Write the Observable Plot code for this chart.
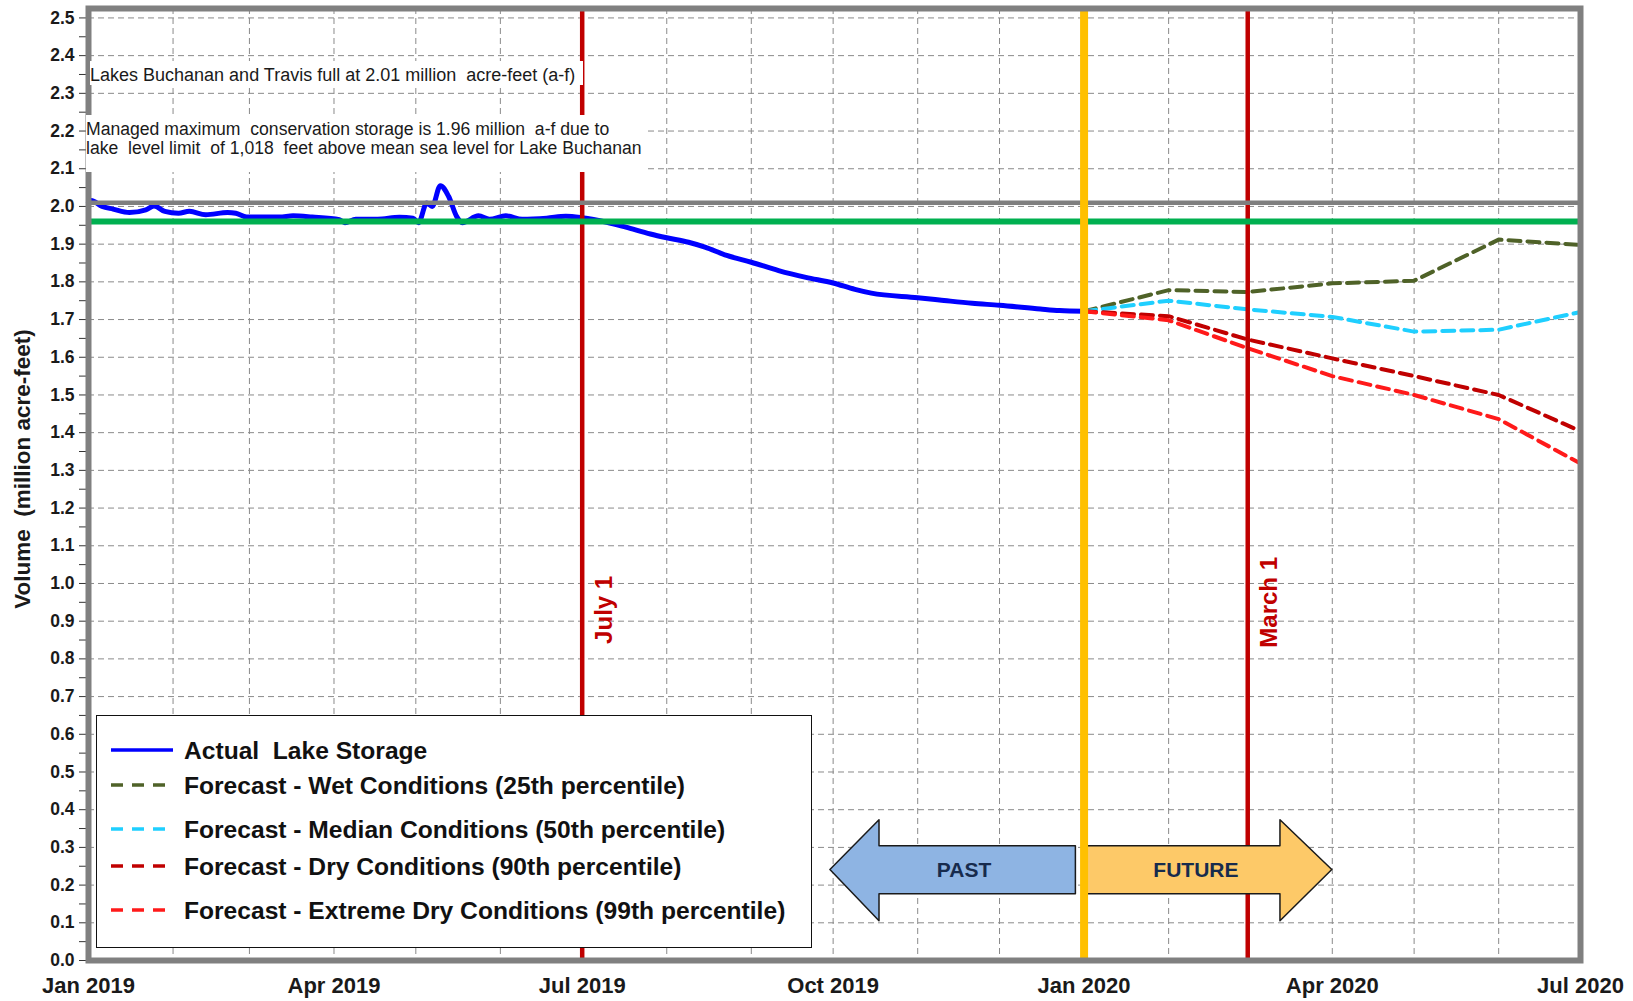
<!DOCTYPE html>
<html><head><meta charset="utf-8">
<script src="https://cdn.jsdelivr.net/npm/d3@7"></script>
<script src="https://cdn.jsdelivr.net/npm/@observablehq/plot@0.6"></script>
<style>
html,body{margin:0;padding:0;background:#fff;overflow:hidden;}
#wrap{position:relative;width:1633px;height:1001px;}
.nf{font-family:"Liberation Sans Narrow","Arial Narrow","Liberation Sans",sans-serif;}
.note{position:absolute;background:#fff;color:#1a1a1a;white-space:pre;}
#ylab{position:absolute;left:23px;top:469px;transform:translate(-50%,-50%) rotate(-90deg);font-family:"Liberation Sans",Arial,sans-serif;font-weight:bold;font-size:22.5px;white-space:pre;color:#1a1a1a;}
#legend{position:absolute;left:96px;top:715px;width:714px;height:231px;border:1.5px solid #111;background:#fff;}
</style></head><body><div id="wrap"></div>
<script>
// ---------- data ----------
const actualDates = ["2019-01-01","2019-01-02","2019-01-06","2019-01-10","2019-01-16","2019-01-22","2019-01-25","2019-01-29","2019-02-03","2019-02-07","2019-02-13","2019-02-21","2019-02-24","2019-02-28","2019-03-12","2019-03-17","2019-03-24","2019-04-03","2019-04-05","2019-04-09","2019-04-17","2019-04-25","2019-04-30","2019-05-02","2019-05-05","2019-05-07","2019-05-10","2019-05-13","2019-05-16","2019-05-18","2019-05-24","2019-05-28","2019-06-03","2019-06-09","2019-06-18","2019-06-25","2019-07-01","2019-07-10","2019-07-17","2019-07-26","2019-08-01","2019-08-09","2019-08-15","2019-08-23","2019-09-01","2019-09-11","2019-09-21","2019-10-01","2019-10-09","2019-10-15","2019-11-01","2019-11-09","2019-11-21","2019-12-01","2019-12-16","2019-12-23","2020-01-01"];
const actualValues = [2.010,2.016,2.000,1.993,1.984,1.991,2.001,1.987,1.982,1.987,1.978,1.984,1.982,1.972,1.972,1.975,1.972,1.965,1.957,1.966,1.966,1.971,1.969,1.957,2.009,2.000,2.055,2.027,1.973,1.957,1.975,1.966,1.975,1.966,1.969,1.974,1.970,1.958,1.945,1.927,1.917,1.905,1.892,1.870,1.852,1.830,1.812,1.797,1.780,1.770,1.758,1.752,1.743,1.738,1.728,1.724,1.722];

const forecastDates = ["2020-01-01","2020-02-01","2020-03-01","2020-04-01","2020-05-01","2020-06-01","2020-07-01"];
const wetValues     = [1.722,1.778,1.773,1.796,1.803,1.912,1.898];
const medianValues  = [1.722,1.750,1.727,1.707,1.668,1.673,1.720];
const dryValues     = [1.722,1.709,1.647,1.597,1.550,1.500,1.404];
const extremeValues = [1.722,1.698,1.624,1.550,1.500,1.436,1.318];

const seriesNames = ["Actual  Lake Storage","Forecast - Wet Conditions (25th percentile)","Forecast - Median Conditions (50th percentile)","Forecast - Dry Conditions (90th percentile)","Forecast - Extreme Dry Conditions (99th percentile)"];
const seriesColors = ["#0000ff","#4f6228","#1fcfff","#c00000","#ff1a1a"];

const fullCapacity = 2.01;
const managedMax = 1.96;
const markerDates = ["2019-07-01","2020-03-01"];
const markerLabels = ["July 1","March 1"];
const markerLabelValues = [0.93,0.95];
const todayDate = "2020-01-01";

const xTickDates = ["2019-01-01","2019-04-01","2019-07-01","2019-10-01","2020-01-01","2020-04-01","2020-07-01"];

const pastArrowDates = ["2019-09-30","2019-10-18","2019-10-18","2019-12-29"];
const pastArrowLow   = [0.24,0.104,0.176,0.176];
const pastArrowHigh  = [0.24,0.372,0.303,0.303];
const futureArrowDates = ["2020-01-02","2020-03-13","2020-03-13","2020-04-01"];
const futureArrowLow   = [0.176,0.176,0.104,0.24];
const futureArrowHigh  = [0.303,0.303,0.372,0.24];
const arrowLabels = ["PAST","FUTURE"];
const arrowLabelDates = ["2019-11-18","2020-02-11"];
const arrowLabelValue = 0.24;

const note1 = "Lakes Buchanan and Travis full at 2.01 million  acre-feet (a-f)";
const note2 = "Managed maximum  conservation storage is 1.96 million  a-f due to\nlake  level limit  of 1,018  feet above mean sea level for Lake Buchanan";
const yTitle = "Volume  (million acre-feet)";

// ---------- build ----------
const parse = d3.utcParse("%Y-%m-%d");
const actual = actualDates.map((d,i)=>({date:parse(d), value:actualValues[i]}));
const fc = [wetValues, medianValues, dryValues, extremeValues];
const forecast = fc.flatMap((vals,k)=>forecastDates.map((d,i)=>({s:k+1, date:parse(d), value:vals[i]})));
const past = pastArrowDates.map((d,i)=>({date:parse(d), lo:pastArrowLow[i], hi:pastArrowHigh[i]}));
const future = futureArrowDates.map((d,i)=>({date:parse(d), lo:futureArrowLow[i], hi:futureArrowHigh[i]}));
const x0 = parse("2019-01-01"), x1 = parse("2020-07-01");
const months = d3.utcMonth.range(x0, d3.utcDay.offset(x1,1));
const yGrid = d3.range(0,26).map(i=>i/10);
const yTicks = d3.range(0,51).map(i=>i/20);
const NF = '"Liberation Sans Narrow","Arial Narrow","Liberation Sans",sans-serif';

const chart = Plot.plot({
  width:1633, height:1001,
  marginLeft:88, marginRight:53, marginTop:8, marginBottom:41,
  x:{type:"utc", domain:[x0,x1]},
  y:{domain:[0,2.525]},
  style:{background:"#fff", fontFamily:NF, overflow:"visible"},
  marks:[
    Plot.gridX(months,{stroke:"#8a8a8a", strokeOpacity:1, strokeDasharray:"6,4", strokeWidth:1}),
    Plot.gridY(yGrid,{stroke:"#8a8a8a", strokeOpacity:1, strokeDasharray:"6,4", strokeWidth:1}),
    Plot.axisY(yTicks,{tickSize:9, tickPadding:5, stroke:"#333", fontSize:17.5, fontWeight:"bold", fill:"#1a1a1a",
      fontFamily:'"Liberation Sans",Arial,sans-serif',
      tickFormat:d=>(Math.round(d*20)%2===0? d.toFixed(1):""), label:null}),
    Plot.axisX(xTickDates.map(parse),{tickSize:0, tickPadding:17, fontSize:22, fontWeight:"bold", fill:"#1a1a1a",
      tickFormat:d3.utcFormat("%b %Y"), label:null}),
    Plot.line(actual,{x:"date", y:"value", stroke:seriesColors[0], strokeWidth:5, curve:"monotone-x"}),
    Plot.line(forecast,{x:"date", y:"value", z:"s", stroke:d=>seriesColors[d.s], strokeWidth:4, strokeDasharray:"12,7", curve:"linear"}),
    Plot.ruleX(markerDates.map(parse),{stroke:"#c00000", strokeWidth:4.5}),
    Plot.ruleY([fullCapacity],{stroke:"#7f7f7f", strokeWidth:4.5}),
    Plot.ruleY([managedMax],{stroke:"#00b050", strokeWidth:6}),
    Plot.areaY(past,{x:"date", y1:"lo", y2:"hi", fill:"#8eb4e3", stroke:"#1a1a1a", strokeWidth:1.5}),
    Plot.areaY(future,{x:"date", y1:"lo", y2:"hi", fill:"#fdc968", stroke:"#1a1a1a", strokeWidth:1.5}),
    Plot.ruleX([parse(todayDate)],{stroke:"#ffc000", strokeWidth:8}),
    Plot.text(arrowLabels,{x:(d,i)=>parse(arrowLabelDates[i]), y:()=>arrowLabelValue, text:d=>d, fontSize:21, fontWeight:"bold", fill:"#172b4d"}),
    Plot.text(markerLabels,{x:(d,i)=>parse(markerDates[i]), y:(d,i)=>markerLabelValues[i], text:d=>d, rotate:-90, dx:22,
      fontSize:24, fontWeight:"bold", fill:"#c00000", fontFamily:'"Liberation Sans",Arial,sans-serif'}),
    Plot.frame({stroke:"#808080", strokeWidth:6})
  ]
});
const wrap = document.getElementById("wrap");
wrap.appendChild(chart);

// notes
const n1 = document.createElement("div"); n1.className="note nf"; n1.textContent=note1;
Object.assign(n1.style,{left:"90px", top:"61px", fontSize:"18px", lineHeight:"17px", padding:"6px 8px 1px 0"});
wrap.appendChild(n1);
const n2 = document.createElement("div"); n2.className="note nf"; n2.textContent=note2;
Object.assign(n2.style,{left:"86px", top:"115px", fontSize:"17.6px", lineHeight:"19px", padding:"5px 4px 14px 0"});
wrap.appendChild(n2);
// y title
const yl = document.createElement("div"); yl.id="ylab"; yl.textContent=yTitle; wrap.appendChild(yl);

// legend
const lg = d3.select(wrap).append("div").attr("id","legend");
const ls = lg.append("svg").attr("width",714).attr("height",231);
const rowY = [34,69,113,150,194];
seriesNames.forEach((name,i)=>{
  ls.append("line").attr("x1",14).attr("x2",76).attr("y1",rowY[i]).attr("y2",rowY[i])
    .attr("stroke",seriesColors[i]).attr("stroke-width",3.5)
    .attr("stroke-dasharray",i===0?null:"12,9");
  ls.append("text").attr("x",87).attr("y",rowY[i]).attr("dy","0.35em")
    .attr("font-family",NF).attr("font-weight","bold").attr("font-size",24.6).attr("fill","#111")
    .style("white-space","pre").text(name);
});
</script></body></html>
